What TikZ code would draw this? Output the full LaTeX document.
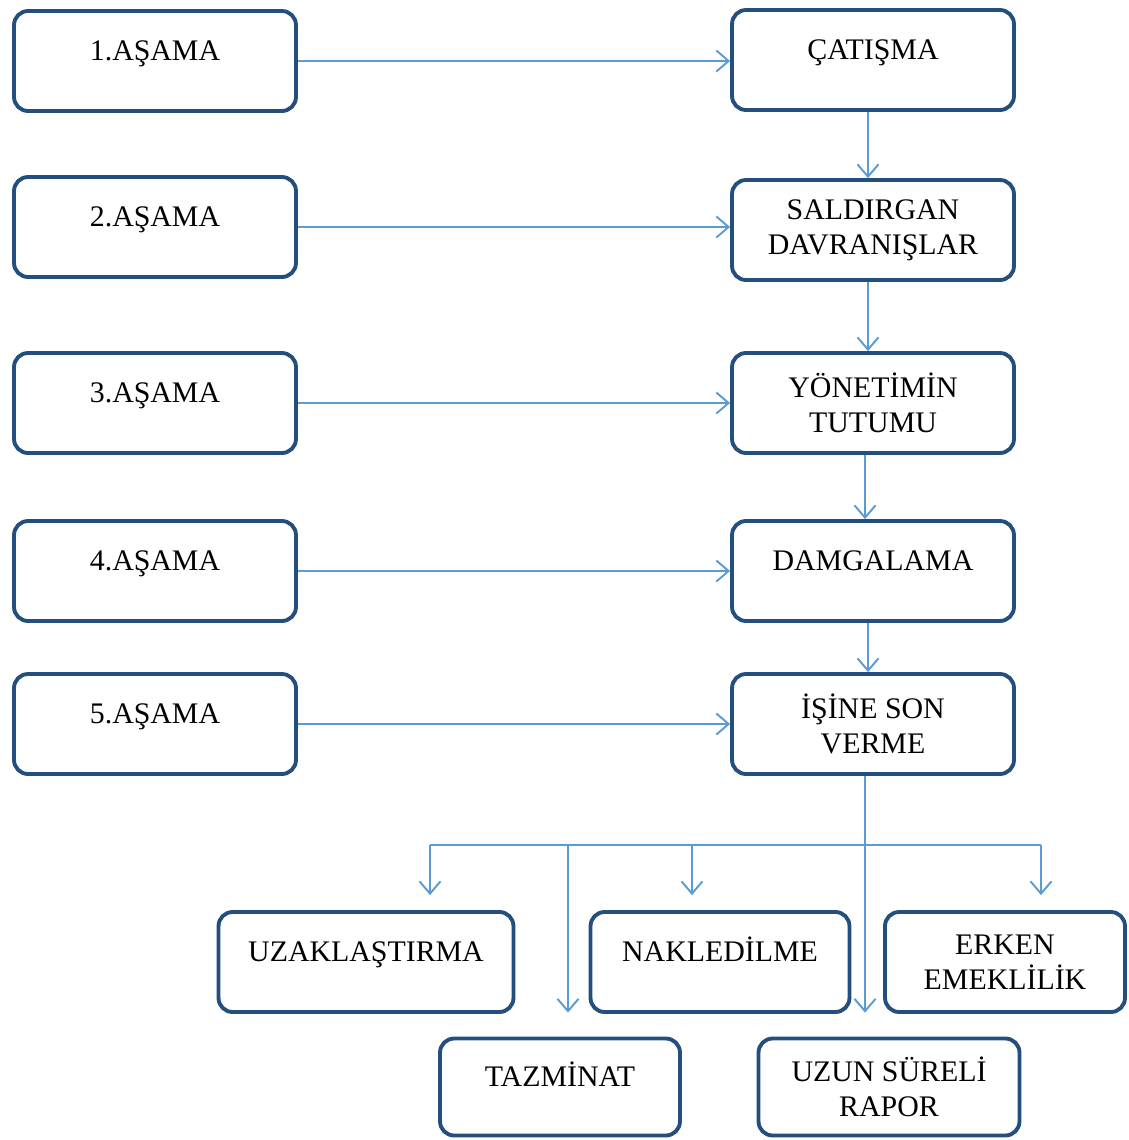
\documentclass[tikz,border=0pt]{standalone}
\usepackage{fontspec}
\setmainfont{Liberation Serif}
\usetikzlibrary{arrows.meta}
\definecolor{boxblue}{RGB}{35,78,125}
\definecolor{lineblue}{RGB}{91,155,213}
\tikzset{
  box/.style={draw=boxblue, line width=2.2pt, rounded corners=8pt, align=center,
    minimum width=5.64cm, minimum height=2.0cm, inner sep=2pt},
  single/.style={text height=12pt, text depth=12.8pt},
  line/.style={draw=lineblue, line width=1.1pt},
  arr/.style={line, -{Straight Barb[length=7pt,width=12pt]}}
}
\begin{document}
\begin{tikzpicture}[x=0.02cm, y=-0.02cm, font=\fontsize{17}{20}\selectfont]
    \useasboundingbox (0,0) rectangle (1129,1140);
    % stages on the left
    \node[box, single] (l1) at (155,61) {1.AŞAMA};
    \node[box, single] (l2) at (155,227) {2.AŞAMA};
    \node[box, single] (l3) at (155,403) {3.AŞAMA};
    \node[box, single] (l4) at (155,571) {4.AŞAMA};
    \node[box, single] (l5) at (155,724) {5.AŞAMA};
    % process on the right
    \node[box, single] (r1) at (873,60) {ÇATIŞMA};
    \node[box] (r2) at (873,230) {SALDIRGAN\\DAVRANIŞLAR};
    \node[box] (r3) at (873,403) {YÖNETİMİN\\TUTUMU};
    \node[box, single] (r4) at (873,571) {DAMGALAMA};
    \node[box] (r5) at (873,724) {İŞİNE SON\\VERME};
    % outcomes
    \node[box, single, minimum width=5.9cm] (uzak) at (366,962) {UZAKLAŞTIRMA};
    \node[box, single, minimum width=5.18cm] (nakl) at (720,962) {NAKLEDİLME};
    \node[box, minimum width=4.8cm] (erken) at (1005,962) {ERKEN\\EMEKLİLİK};
    \node[box, single, minimum width=4.8cm, minimum height=1.94cm] (tazm) at (560,1087) {TAZMİNAT};
    \node[box, minimum width=5.22cm, minimum height=1.94cm] (uzun) at (889,1087) {UZUN SÜRELİ\\RAPOR};
    % stage arrows
    \foreach \i in {1,...,5}
        \draw[arr] (l\i.east) -- (l\i.east -| r\i.west);
    % chain
    \draw[arr] ([xshift=-0.1cm]r1.south) -- ([xshift=-0.1cm]r2.north);
    \draw[arr] ([xshift=-0.1cm]r2.south) -- ([xshift=-0.1cm]r3.north);
    \draw[arr] ([xshift=-0.16cm]r3.south) -- ([xshift=-0.16cm]r4.north);
    \draw[arr] ([xshift=-0.1cm]r4.south) -- ([xshift=-0.1cm]r5.north);
    % branching
    \coordinate (split) at (865,845);
    \coordinate (b1) at (430,845);
    \coordinate (b2) at (568,845);
    \coordinate (b3) at (692,845);
    \coordinate (b4) at (1041,845);
    \draw[line] (b1) -- (b4);
    \draw[arr, shorten >=0.48cm] (split |- r5.south) -- (split |- uzun.north);
    \draw[arr, shorten >=0.3cm] (b1) -- (b1 |- uzak.north);
    \draw[arr, shorten >=0.48cm] (b2) -- (b2 |- tazm.north);
    \draw[arr, shorten >=0.3cm] (b3) -- (b3 |- nakl.north);
    \draw[arr, shorten >=0.3cm] (b4) -- (b4 |- erken.north);
\end{tikzpicture}
\end{document}
